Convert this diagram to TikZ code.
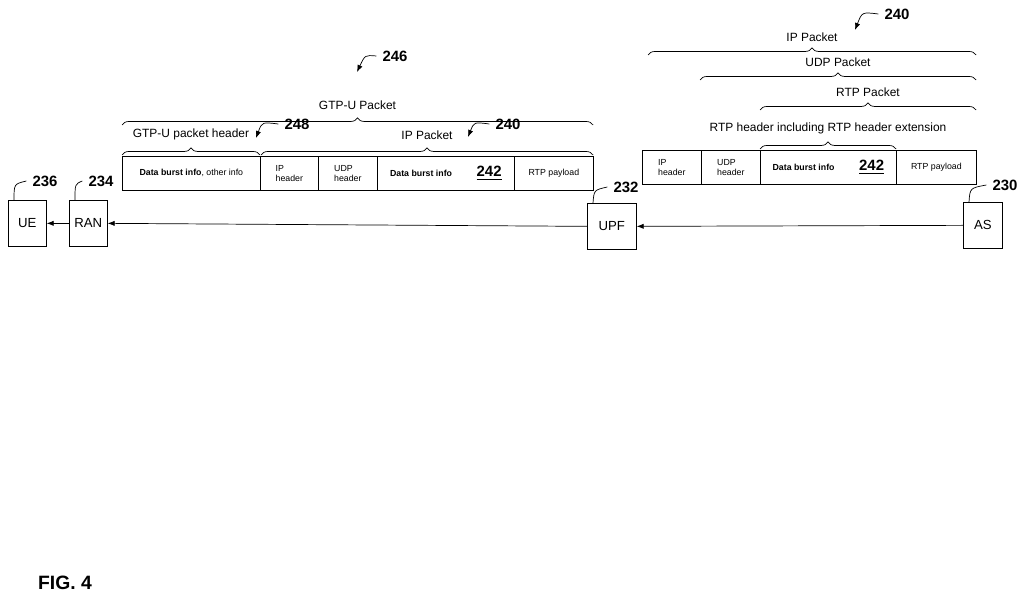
\documentclass[tikz,border=0pt]{standalone}
\usepackage{fontspec}
\setmainfont{Liberation Sans}
\usetikzlibrary{decorations.pathreplacing,arrows.meta,positioning}

\tikzset{
  ent/.style={draw,minimum width=0.76cm,minimum height=0.92cm,font=\fontsize{7.5}{8}\selectfont,inner sep=0pt},
  cell/.style={draw,anchor=north west,minimum height=0.68cm,inner sep=1.5pt,align=left,font=\fontsize{5}{6}\selectfont},
  lbl/.style={font=\fontsize{6.8}{8}\selectfont},
  refnum/.style={font=\bfseries\fontsize{8.5}{10}\selectfont},
  brc/.style={decorate,decoration={brace,amplitude=4pt}},
  flow/.style={-{Latex[length=4pt,width=3pt]},line width=0.4pt}
}

\begin{document}
\begin{tikzpicture}[x=0.02cm,y=-0.02cm]
  \useasboundingbox (0,0) rectangle (1024,601);
  % network entities
  \node[ent,anchor=north west] (ue) at (8,200) {UE};
  \node[ent,anchor=north west] (ran) at (69,200) {RAN};
  \node[ent,anchor=north west,minimum width=0.98cm] (upf) at (587,203) {UPF};
  \node[ent,anchor=north west,minimum width=0.78cm] (as) at (963,202) {AS};
  \draw[flow] (as.west) -- (upf.east);
  \draw[flow] (upf.west) -- (ran.east);
  \draw[flow] (ran.west) -- (ue.east);
  % reference numerals of entities
  \node[refnum] (n236) at (45,181) {236};
  \node[refnum] (n234) at (101,181) {234};
  \node[refnum] (n232) at (626,187) {232};
  \node[refnum] (n230) at (1005,185) {230};
  \draw (ue.north west)++(6,0) .. controls (14,184) .. (n236.west);
  \draw (ran.north west)++(6,0) .. controls (75,184) .. (n234.west);
  \draw (upf.north west)++(6,0) .. controls (594,190) .. (n232.west);
  \draw (as.north west)++(6,0) .. controls (970,188) .. (n230.west);

  % GTP-U packet
  \node[cell,minimum width=2.76cm] (gh) at (122,156) {\textbf{Data burst info}, other info};
  \node[cell,minimum width=1.16cm] (gip) at (260,156) {IP\\header};
  \node[cell,minimum width=1.18cm] (gudp) at (318,156) {UDP\\header};
  \node[cell,minimum width=2.74cm] (gdb) at (377,156) {\textbf{Data burst info}\hspace{14pt}{\bfseries\fontsize{8.5}{10}\selectfont\underline{242}}};
  \node[cell,minimum width=1.58cm] (gpl) at (514,156) {RTP payload};
  \draw[brc] (122,125) -- (593,125) node[midway,above=5pt,lbl] (gtpu) {GTP-U Packet};
  \draw[brc] (122,155) -- (260,155) node[midway,above=5pt,lbl] (ghdr) {GTP-U packet header};
  \draw[brc] (261,155) -- (593,155) node[midway,above=5pt,lbl] (gippkt) {IP Packet};
  \node[refnum] (n246) at (395,56) {246};
  \node[refnum] (n248) at (297,124) {248};
  \node[refnum] (n240a) at (508,124) {240};
  \draw[flow] (n246.west) .. controls (365,55) .. (357,72);
  \draw[flow] (n248.west) .. controls (262,122) .. (256,138);
  \draw[flow] (n240a.west) .. controls (474,122) .. (468,137);

  % IP packet at AS
  \node[cell,minimum width=1.18cm] (aip) at (642,150) {IP\\header};
  \node[cell,minimum width=1.18cm] (audp) at (701,150) {UDP\\header};
  \node[cell,minimum width=2.72cm] (adb) at (760,150) {\textbf{Data burst info}\hspace{14pt}{\bfseries\fontsize{8.5}{10}\selectfont\underline{242}}};
  \node[cell,minimum width=1.60cm] (apl) at (896,150) {RTP payload};
  \draw[brc] (648,55) -- (976,55) node[midway,above=4pt,lbl] (aippkt) {IP Packet};
  \draw[brc] (700,80) -- (976,80) node[midway,above=4pt,lbl] (audppkt) {UDP Packet};
  \draw[brc] (760,110) -- (976,110) node[midway,above=4pt,lbl] (artp) {RTP Packet};
  \draw[brc] (760,149) -- (896,149) node[midway,above=5pt,lbl] (artph) {RTP header including RTP header extension};
  \node[refnum] (n240b) at (897,14) {240};
  \draw[flow] (n240b.west) .. controls (862,12) .. (855,30);

  \node[font=\bfseries\fontsize{11}{13}\selectfont] (fig) at (65,583) {FIG. 4};
\end{tikzpicture}
\end{document}
